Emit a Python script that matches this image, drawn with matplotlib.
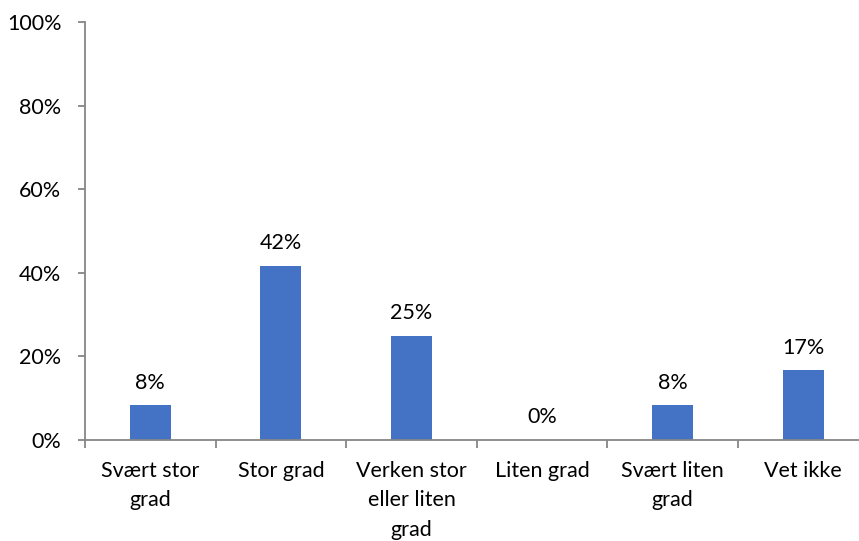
import matplotlib
matplotlib.use('Agg')
import matplotlib.pyplot as plt
import numpy as np
from matplotlib.ticker import FixedLocator, PercentFormatter

# Data
categories = ['Svært stor\ngrad', 'Stor grad', 'Verken stor\neller liten\ngrad',
              'Liten grad', 'Svært liten\ngrad', 'Vet ikke']
values = [8.33, 41.67, 25.0, 0.0, 8.33, 16.67]

plt.rcParams['font.family'] = ['Lato', 'DejaVu Sans']
axis_color = '#868686'
fs = 15.5

fig = plt.figure(figsize=(8.59, 5.41), dpi=100)
# plot area runs a little past the right edge of the picture, like the original
ax = fig.add_axes([0.099, 0.1867, 0.912, 0.7726])

x = np.arange(len(categories))
bars = ax.bar(x, values, width=0.315, color='#4472C4')

# Value labels above bars
for xi, v in zip(x, values):
    ax.annotate(f'{v:.0f}%', xy=(xi, v), xytext=(0, 9), textcoords='offset points',
                ha='center', va='bottom', fontsize=fs, color='black')

ax.set_xlim(-0.5, len(categories) - 0.5)
ax.set_ylim(0, 100)
ax.set_yticks(np.arange(0, 101, 20))
ax.yaxis.set_major_formatter(PercentFormatter(decimals=0))

# category labels centred, tick marks on boundaries
ax.set_xticks(x)
ax.set_xticklabels(categories, fontsize=fs, linespacing=1.6)
ax.tick_params(axis='x', which='major', length=0, pad=15)
ax.xaxis.set_minor_locator(FixedLocator(np.arange(-0.5, len(categories), 1.0)))
ax.tick_params(axis='x', which='minor', length=6, width=1.3, color=axis_color)
ax.tick_params(axis='y', length=5, width=1.3, color=axis_color, labelsize=fs, pad=12)

for s in ['top', 'right']:
    ax.spines[s].set_visible(False)
for s in ['left', 'bottom']:
    ax.spines[s].set_color(axis_color)
    ax.spines[s].set_linewidth(1.3)

fig.savefig('out.png', dpi=100)
